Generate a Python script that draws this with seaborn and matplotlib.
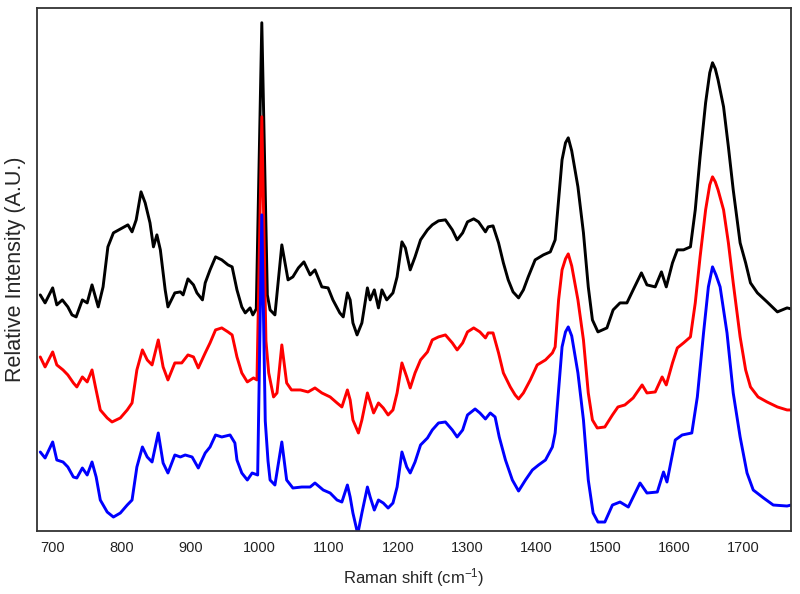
import matplotlib
matplotlib.use("Agg")
import matplotlib.pyplot as plt
import seaborn as sns

# Raman shift (cm-1) and relative intensity (A.U.)
black_x = [682, 689, 700, 706, 714, 722, 728, 734, 743, 750,
           757, 766, 773, 780, 788, 801, 809, 815, 821, 828,
           834, 841, 846, 851, 856, 863, 867, 877, 885, 889,
           896, 904, 909, 917, 921, 928, 936, 945, 954, 960,
           967, 974, 979, 986, 990, 995, 1003, 1011, 1015,
           1022, 1032, 1041, 1048, 1056, 1064, 1073, 1080, 1090,
           1099, 1106, 1116, 1121, 1127, 1131, 1135, 1141, 1148, 1156,
           1160, 1166, 1172, 1177, 1184, 1193, 1199, 1206, 1211, 1218,
           1225, 1233, 1243, 1250, 1259, 1269, 1279, 1286, 1294, 1301,
           1310, 1317, 1327, 1331, 1338, 1346, 1353, 1360, 1367, 1375,
           1382, 1389, 1399, 1411, 1421, 1428, 1433, 1438, 1443, 1447,
           1452, 1461, 1469, 1476, 1482, 1490, 1503, 1512, 1522, 1532,
           1541, 1553, 1561, 1573, 1582, 1589, 1598, 1605, 1614, 1624,
           1631, 1638, 1646, 1652, 1656, 1660, 1664, 1672, 1679, 1686,
           1696, 1704, 1711, 1721, 1735, 1750, 1764, 1770]
black_y = [236, 228, 243, 226, 231, 224, 216, 214, 231, 228,
           246, 224, 244, 284, 298, 303, 306, 299, 311, 339,
           328, 308, 284, 296, 281, 241, 224, 238, 239, 236,
           252, 246, 238, 231, 248, 261, 274, 271, 266, 264,
           241, 224, 218, 223, 216, 222, 508, 236, 221,
           216, 286, 251, 254, 263, 269, 256, 261, 244,
           243, 231, 218, 214, 238, 231, 208, 196, 208, 243,
           231, 241, 223, 241, 231, 238, 254, 289, 283, 261,
           274, 291, 301, 306, 310, 311, 301, 291, 298, 309,
           312, 309, 299, 304, 305, 288, 268, 251, 239, 233,
           241, 254, 271, 276, 279, 291, 331, 371, 388, 393,
           380, 344, 298, 244, 211, 199, 203, 221, 228, 228,
           241, 258, 246, 244, 259, 244, 268, 281, 281, 284,
           321, 374, 428, 458, 468, 462, 451, 424, 384, 341,
           288, 268, 248, 238, 229, 219, 223, 222]

red_x = [682, 689, 700, 706, 715, 722, 730, 735, 743, 750,
         757, 762, 769, 779, 786, 798, 808, 815, 822, 830,
         837, 844, 853, 860, 867, 877, 887, 896, 904, 911,
         921, 928, 936, 945, 954, 960, 967, 974, 982, 991,
         996, 1003, 1009, 1013, 1020, 1025, 1032, 1039,
         1046, 1059, 1070, 1080, 1090, 1102, 1112, 1119, 1127, 1131,
         1135, 1143, 1148, 1156, 1160, 1165, 1172, 1179, 1186, 1193,
         1199, 1206, 1213, 1218, 1225, 1233, 1243, 1250, 1259, 1269,
         1279, 1286, 1294, 1301, 1310, 1319, 1327, 1331, 1338, 1346,
         1353, 1363, 1370, 1375, 1382, 1392, 1402, 1414, 1424, 1428,
         1433, 1438, 1443, 1447, 1452, 1461, 1469, 1476, 1482, 1489, 1500,
         1511, 1519, 1529, 1541, 1554, 1561, 1573, 1583, 1589, 1598,
         1605, 1614, 1624, 1631, 1638, 1646, 1652, 1656, 1660, 1664, 1672, 1679,
         1686, 1696, 1704, 1711, 1722, 1735, 1750, 1764, 1770]
red_y = [174, 164, 179, 166, 161, 156, 148, 144, 154, 149,
         161, 144, 121, 113, 109, 113, 121, 128, 161, 181,
         171, 166, 191, 164, 151, 168, 168, 176, 174, 163,
         178, 188, 201, 203, 199, 196, 174, 158, 149, 153,
         151, 414, 190, 158, 134, 138, 186, 148,
         141, 141, 139, 143, 138, 134, 128, 124, 141, 131,
         111, 98, 111, 138, 129, 118, 128, 123, 116, 121,
         138, 168, 154, 143, 158, 171, 179, 191, 194, 196,
         188, 181, 188, 199, 203, 199, 193, 198, 198, 178,
         158, 144, 136, 132, 138, 151, 166, 171, 178, 184,
         231, 261, 272, 277, 265, 231, 191, 138, 111, 103, 104,
         116, 124, 126, 133, 146, 138, 139, 154, 146, 168,
         183, 188, 194, 228, 274, 321, 346, 354, 349, 341, 321, 288,
         248, 194, 161, 144, 134, 129, 124, 121, 121]

blue_x = [682, 689, 700, 706, 715, 722, 730, 735, 743, 750,
          757, 763, 769, 779, 788, 798, 808, 815, 822, 830,
          837, 844, 853, 860, 867, 877, 885, 892, 902, 911,
          921, 928, 936, 945, 957, 964, 967, 974, 982, 989,
          997, 1003, 1008, 1012, 1015, 1022, 1032, 1039, 1048,
          1061, 1073, 1080, 1092, 1102, 1112, 1119, 1127, 1131, 1135,
          1142, 1148, 1156, 1160, 1166, 1172, 1179, 1186, 1193, 1199,
          1206, 1213, 1218, 1225, 1233, 1243, 1250, 1259, 1269, 1279,
          1286, 1294, 1301, 1312, 1319, 1327, 1334, 1341, 1347, 1356,
          1366, 1375, 1385, 1395, 1404, 1414, 1424, 1428, 1433, 1438,
          1443, 1447, 1452, 1461, 1469, 1476, 1483, 1490, 1500, 1511, 1522,
          1534, 1551, 1561, 1576, 1585, 1590, 1602, 1612, 1626, 1634,
          1643, 1650, 1656, 1661, 1667, 1677, 1686, 1696, 1706, 1715, 1730,
          1744, 1764, 1770]
blue_y = [79, 73, 89, 71, 69, 64, 54, 53, 63, 56,
          69, 54, 31, 19, 14, 18, 26, 31, 64, 84,
          74, 69, 98, 68, 58, 76, 74, 76, 74, 63,
          78, 84, 96, 94, 96, 88, 71, 58, 51, 58,
          56, 316, 110, 70, 51, 46, 89, 51, 43,
          44, 44, 48, 41, 38, 31, 29, 46, 34, 18,
          -3, 18, 44, 34, 21, 31, 28, 23, 28, 44,
          79, 64, 58, 69, 86, 93, 101, 108, 109, 101,
          94, 101, 116, 122, 118, 112, 118, 114, 94, 71,
          51, 40, 51, 61, 66, 71, 84, 98, 141, 184,
          199, 204, 195, 158, 111, 51, 18, 9, 9, 26, 29,
          24, 48, 38, 39, 59, 49, 91, 96, 98, 134,
          198, 244, 264, 256, 244, 198, 138, 94, 58, 41, 33,
          26, 25, 26]

x_ticks = [700, 800, 900, 1000, 1100, 1200, 1300, 1400, 1500, 1600, 1700]

sns.set_style("white")
plt.rcParams["font.family"] = ["Liberation Sans", "DejaVu Sans"]
plt.rcParams["mathtext.fontset"] = "custom"
plt.rcParams["mathtext.rm"] = "Liberation Sans"

fig, ax = plt.subplots(figsize=(8, 5.94), dpi=100)
fig.subplots_adjust(left=0.046, right=0.989, bottom=0.106, top=0.987)

for xs, ys, c in [(black_x, black_y, "black"), (red_x, red_y, "#ff0000"), (blue_x, blue_y, "#0000ff")]:
    sns.lineplot(x=xs, y=ys, color=c, lw=2.1, estimator=None, sort=False, ax=ax)

ax.set_xlim(677, 1770)
ax.set_ylim(0, 523)
ax.set_xticks(x_ticks)
ax.set_yticks([])
ax.tick_params(axis="x", direction="in", length=5, width=1, labelsize=10.5, pad=7, colors="#222222")
for s in ax.spines.values():
    s.set_visible(True)
    s.set_color("#333333")
    s.set_linewidth(1.3)

ax.set_xlabel("Raman shift (cm$\\mathregular{^{-1}}$)", fontsize=12, labelpad=8)
ax.set_ylabel("Relative Intensity (A.U.)", fontsize=15.5)
ax.yaxis.set_label_coords(-0.014, 0.5)

fig.savefig("out.png", dpi=100)
